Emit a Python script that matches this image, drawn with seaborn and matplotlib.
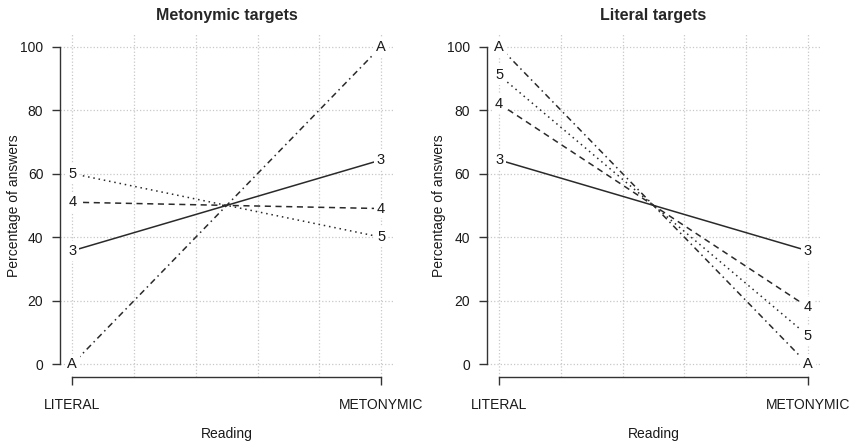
import numpy as np
import pandas as pd
import matplotlib
matplotlib.use('Agg')
import matplotlib.pyplot as plt
from matplotlib.ticker import FixedLocator
import seaborn as sns

readings = ['LITERAL', 'METONYMIC']
groups = ['3', '4', '5', 'A']
panels = ['Metonymic targets', 'Literal targets']

# percentage of answers (LITERAL, METONYMIC) for each group
meto_3 = [35.7, 64.3]
meto_4 = [51.0, 49.0]
meto_5 = [60.0, 40.0]
meto_A = [0.0, 100.0]

lit_3 = [64.3, 35.7]
lit_4 = [82.0, 18.0]
lit_5 = [91.0, 9.0]
lit_A = [100.0, 0.0]

values = {
    'Metonymic targets': [meto_3, meto_4, meto_5, meto_A],
    'Literal targets': [lit_3, lit_4, lit_5, lit_A],
}

rows = []
for p in panels:
    for g, vals in zip(groups, values[p]):
        for i, v in enumerate(vals):
            rows.append({'panel': p, 'group': g, 'pos': i + 1, 'pct': v})
df = pd.DataFrame(rows)

sns.set_style('white')
plt.rcParams['font.family'] = ['Liberation Sans', 'DejaVu Sans']

# R style line types: solid, dashed, dotted, dotdash
dash_map = {'3': '', '4': (4, 3), '5': (1, 2.5), 'A': (1, 2.5, 4, 2.5)}
line_col = '#2a2a2a'

fig = plt.figure(figsize=(8.57, 4.46), dpi=100)
ax_pos = [[0.070, 0.155, 0.389, 0.769], [0.568, 0.155, 0.389, 0.769]]
ylab_x = [-0.117, -0.123]

for p, pos, yx in zip(panels, ax_pos, ylab_x):
    ax = fig.add_axes(pos)
    sub = df[df['panel'] == p]
    sns.lineplot(data=sub, x='pos', y='pct', style='group', dashes=dash_map,
                 color=line_col, lw=1.1, legend=False, ax=ax, zorder=2)
    for _, r in sub.iterrows():
        ax.text(r['pos'], r['pct'], r['group'], ha='center', va='center',
                fontsize=10.5, color='#1a1a1a', zorder=4,
                bbox=dict(boxstyle='square,pad=0.2', fc='white', ec='none'))

    ax.set_xlim(0.96, 2.04)
    ax.set_ylim(-4, 104)
    ax.set_xticks([1, 2])
    ax.set_xticklabels(readings)
    ax.xaxis.set_minor_locator(FixedLocator([1.2, 1.4, 1.6, 1.8]))
    ax.set_yticks(np.arange(0, 101, 20))
    ax.tick_params(axis='x', which='minor', length=0)
    ax.tick_params(axis='both', which='major', direction='out', length=6,
                   width=1, color='#333333', labelsize=10, labelcolor='#1a1a1a',
                   bottom=True, left=True)
    ax.tick_params(axis='x', which='major', pad=9)
    ax.tick_params(axis='y', which='major', pad=6)
    ax.grid(True, which='both', ls=':', color='#c8c8c8', lw=0.9, zorder=0)
    ax.set_axisbelow(True)

    for s in ['top', 'right']:
        ax.spines[s].set_visible(False)
    ax.spines['left'].set_bounds(0, 100)
    ax.spines['bottom'].set_bounds(1, 2)
    for s in ['left', 'bottom']:
        ax.spines[s].set_color('#333333')
        ax.spines[s].set_linewidth(1)

    ax.set_xlabel('Reading', fontsize=10, color='#1a1a1a')
    ax.set_ylabel('Percentage of answers', fontsize=10, color='#1a1a1a')
    ax.xaxis.set_label_coords(0.5, -0.146)
    ax.yaxis.set_label_coords(yx, 0.5)
    ax.set_title(p, fontsize=11.5, fontweight='bold', pad=10)

fig.savefig('out.png', dpi=100)
